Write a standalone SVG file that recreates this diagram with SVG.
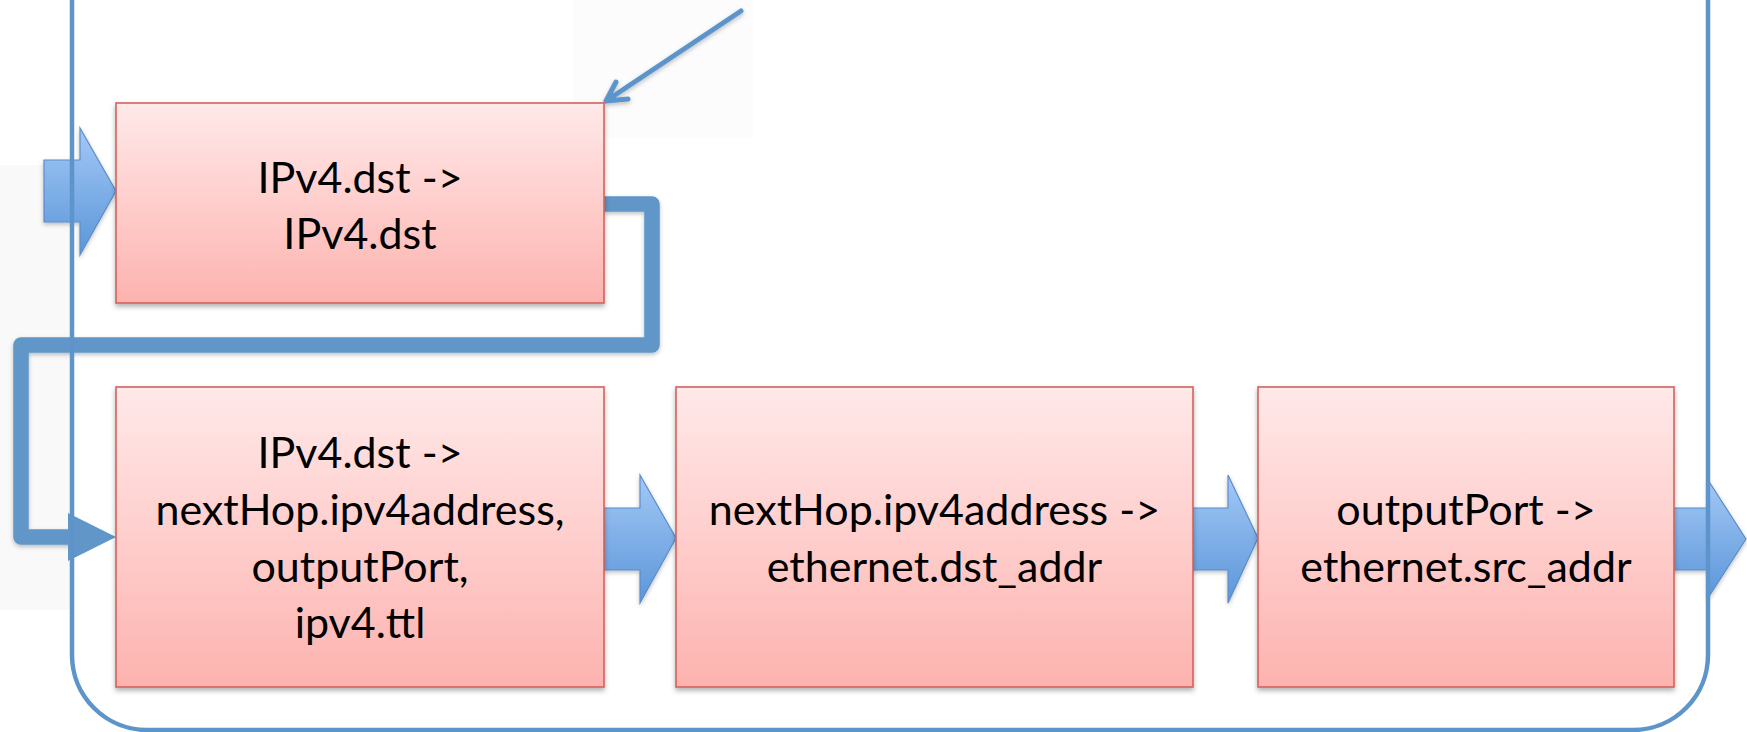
<svg xmlns="http://www.w3.org/2000/svg" width="1747" height="732" viewBox="0 0 1747 732">
  <defs>
    <linearGradient id="boxFill" x1="0" y1="0" x2="0" y2="1">
      <stop offset="0" stop-color="#ffe9e9"/>
      <stop offset="1" stop-color="#fdb3af"/>
    </linearGradient>
    <linearGradient id="arrowFill" x1="0" y1="0" x2="0" y2="1">
      <stop offset="0" stop-color="#a3c8f6"/>
      <stop offset="1" stop-color="#5b96d9"/>
    </linearGradient>
    <filter id="shadow" x="-10%" y="-10%" width="120%" height="125%">
      <feDropShadow dx="0" dy="3" stdDeviation="2.5" flood-color="#000" flood-opacity="0.3"/>
    </filter>
    <filter id="lshadow" x="-10%" y="-10%" width="120%" height="125%">
      <feDropShadow dx="0" dy="2" stdDeviation="2" flood-color="#000" flood-opacity="0.25"/>
    </filter>
  </defs>
  <style>
    .box { fill: url(#boxFill); stroke: #d2625c; stroke-width: 1.6; filter: url(#shadow); }
    .lbl { font-family: Lato, "Open Sans", "Liberation Sans", sans-serif; font-size: 43px; fill: #000; text-anchor: middle; }
    .block { fill: url(#arrowFill); stroke: #5a8dcb; stroke-width: 1.2; filter: url(#lshadow); }
    .thick { fill: none; stroke: #6096c8; stroke-width: 15.5; stroke-linejoin: round; filter: url(#lshadow); }
    .thin { fill: none; stroke: #5d95ca; stroke-width: 5; stroke-linecap: round; stroke-linejoin: round; filter: url(#lshadow); }
    .frame { fill: none; stroke: #5d95ca; stroke-width: 4.5; }
  </style>
  <rect width="1747" height="732" fill="#ffffff"/>
  <rect x="0" y="165" width="70" height="445" fill="#f9f9f9"/>
  <rect x="573" y="0" width="180" height="138" fill="#fcfcfc"/>

  <g id="connectors">
    <path class="thick" d="M604,204 H652 V345 H21 V537 H72"/>
    <polygon points="68,513 116,537 68,561" fill="#6096c8"/>
    <path class="thin" d="M741,11 L606,101 M616,82 L606,101 L628,99"/>
    <polygon class="block" points="44,160 80,160 80,128 116,191 80,255 80,222 44,222"/>
    <polygon class="block" points="604,508 640,508 640,475 676,538 640,603 640,570 604,570"/>
    <polygon class="block" points="1193,508 1228,508 1228,475 1258,538 1228,603 1228,570 1193,570"/>
    <polygon class="block" points="1673,508 1708,508 1708,480 1746,539 1708,598 1708,570 1673,570"/>
  </g>

  <g id="node1">
    <rect class="box" x="116" y="103" width="488" height="200"/>
    <text class="lbl" x="360" y="193">IPv4.dst -&gt;</text>
    <text class="lbl" x="360" y="249">IPv4.dst</text>
  </g>
  <g id="node2">
    <rect class="box" x="116" y="387" width="488" height="300"/>
    <text class="lbl" x="360" y="468">IPv4.dst -&gt;</text>
    <text class="lbl" x="360" y="525">nextHop.ipv4address,</text>
    <text class="lbl" x="360" y="582">outputPort,</text>
    <text class="lbl" x="360" y="638">ipv4.ttl</text>
  </g>
  <g id="node3">
    <rect class="box" x="676" y="387" width="517" height="300"/>
    <text class="lbl" x="934.5" y="525">nextHop.ipv4address -&gt;</text>
    <text class="lbl" x="934.5" y="582">ethernet.dst_addr</text>
  </g>
  <g id="node4">
    <rect class="box" x="1258" y="387" width="416" height="300"/>
    <text class="lbl" x="1466" y="525">outputPort -&gt;</text>
    <text class="lbl" x="1466" y="582">ethernet.src_addr</text>
  </g>

  <g id="frame">
    <path class="frame" d="M72,-10 V655 A75,75 0 0 0 147,730 H1633 A75,75 0 0 0 1708,655 V-10"/>
  </g>
</svg>
